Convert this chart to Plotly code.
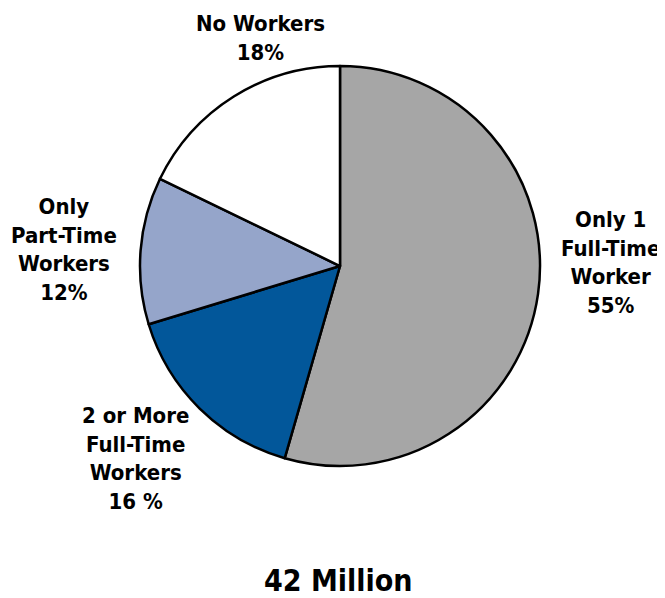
import plotly.graph_objects as go

categories = ["Only 1 Full-Time Worker", "2 or More Full-Time Workers", "Only Part-Time Workers", "No Workers"]
values = [55, 16, 12, 18]
label_texts = ["Only 1<br>Full-Time<br>Worker<br>55%", "2 or More<br>Full-Time<br>Workers<br>16 %",
               "Only<br>Part-Time<br>Workers<br>12%", "No Workers<br>18%"]
colors = ["#a6a6a6", "#02579a", "#95a5ca", "#ffffff"]
total_label = "42 Million"

FONT = "DejaVu Sans Condensed, Liberation Sans Narrow, Arial Narrow, sans-serif"

fig = go.Figure(go.Pie(
    labels=categories, values=values, sort=False, direction="clockwise", rotation=0,
    marker=dict(colors=colors, line=dict(color="black", width=2.5)),
    textinfo="none", hoverinfo="label+percent", showlegend=False,
))

OFF = 8  # page body margin
W, H = 665 - OFF, 598 - OFF
ml, mr, mt, mb = 140 - OFF, W - (540 - OFF), 66 - OFF, H - (466 - OFF)
pw, ph = W - ml - mr, H - mt - mb

def px(x):
    return (x - OFF - ml) / pw

def py(y):
    return (H - mb - (y - OFF)) / ph

label_pos = [(610, 262), (135, 458), (64, 249), (260, 38)]
anns = []
for t, (x, y) in zip(label_texts, label_pos):
    anns.append(dict(text=t, x=px(x), y=py(y), xref="paper", yref="paper",
                     xanchor="center", yanchor="middle", showarrow=False, align="center",
                     font=dict(family=FONT, size=22, color="black", weight="bold")))
anns.append(dict(text=total_label, x=px(338), y=py(580), xref="paper", yref="paper",
                 xanchor="center", yanchor="middle", showarrow=False,
                 font=dict(family=FONT, size=30, color="black", weight="bold")))

fig.update_layout(width=W, height=H, margin=dict(l=ml, r=mr, t=mt, b=mb),
                  paper_bgcolor="white", plot_bgcolor="white", annotations=anns)
fig.write_html("out.html")
